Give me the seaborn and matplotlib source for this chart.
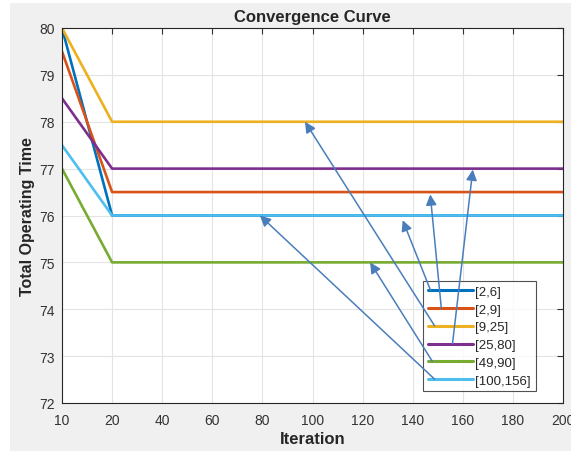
import numpy as np
import pandas as pd
import matplotlib
matplotlib.use("Agg")
import matplotlib.pyplot as plt
from matplotlib.patches import Rectangle
import seaborn as sns

# x axis is evenly spaced by step, labelled with the iteration count
iterations = [10, 20, 40, 60, 80, 100, 120, 140, 160, 180, 200]
series_names = ["[2,6]", "[2,9]", "[9,25]", "[25,80]", "[49,90]", "[100,156]"]

time_2_6 = [80, 76, 76, 76, 76, 76, 76, 76, 76, 76, 76]
time_2_9 = [79.5, 76.5, 76.5, 76.5, 76.5, 76.5, 76.5, 76.5, 76.5, 76.5, 76.5]
time_9_25 = [80, 78, 78, 78, 78, 78, 78, 78, 78, 78, 78]
time_25_80 = [78.5, 77, 77, 77, 77, 77, 77, 77, 77, 77, 77]
time_49_90 = [77, 75, 75, 75, 75, 75, 75, 75, 75, 75, 75]
time_100_156 = [77.5, 76, 76, 76, 76, 76, 76, 76, 76, 76, 76]

# where each legend arrow points (iteration, value)
arrow_iter = [136, 147, 97, 164, 123, 79]
arrow_value = [75.9, 76.45, 78.0, 76.98, 75.0, 76.0]

colors = ["#0072BD", "#D95319", "#EDB120", "#7E2F8E", "#77AC30", "#4DBEEE"]
arrow_color = "#4A7EBB"

all_series = [time_2_6, time_2_9, time_9_25, time_25_80, time_49_90, time_100_156]
rows = []
for name, vals in zip(series_names, all_series):
    for step, (it, v) in enumerate(zip(iterations, vals)):
        rows.append({"step": step, "Iteration": it, "time": v, "range": name})
df = pd.DataFrame(rows)

sns.set_style("white")
plt.rcParams["font.family"] = ["Liberation Sans", "DejaVu Sans"]

fig = plt.figure(figsize=(5.71, 4.52), dpi=100, facecolor="white")
fig.patches.append(Rectangle((10 / 571, 0), 1, (452 - 4) / 452, transform=fig.transFigure,
                             facecolor="#f0f0f0", edgecolor="none", zorder=-10))
ax = fig.add_axes([62 / 571, 48 / 452, 501 / 571, 375 / 452])
ax.set_facecolor("white")

sns.lineplot(data=df, x="step", y="time", hue="range", hue_order=series_names,
             palette=colors, linewidth=1.9, ax=ax, legend=True, sort=False)

steps = np.arange(len(iterations))
ax.set_xlim(0, len(iterations) - 1)
ax.set_ylim(72, 80)
ax.set_xticks(steps)
ax.set_xticklabels([str(i) for i in iterations])
ax.set_yticks(np.arange(72, 81, 1))
ax.grid(True, color="#e3e3e3", linewidth=0.8)
ax.tick_params(direction="in", length=4, width=0.8, colors="#333333", labelsize=10,
               top=True, right=True)
ax.tick_params(axis="x", pad=7)
ax.tick_params(axis="y", pad=5)
for sp in ax.spines.values():
    sp.set_color("#262626")
    sp.set_linewidth(0.8)

ax.set_title("Convergence Curve", fontsize=12, weight="bold", pad=5)
ax.set_xlabel("Iteration", fontsize=12, weight="bold", labelpad=3)
ax.set_ylabel("Total Operating Time", fontsize=11.5, weight="bold", labelpad=3)

leg = ax.legend(loc="lower left", bbox_to_anchor=(0.721, 0.031), borderaxespad=0,
                fontsize=9.5, handlelength=3.4, handletextpad=0.2, labelspacing=0.42,
                frameon=True, fancybox=False, edgecolor="#262626", borderpad=0.35)
leg.get_frame().set_linewidth(0.8)
for line in leg.get_lines():
    line.set_linewidth(2.2)

# arrows from each legend entry to its curve
fig.canvas.draw()
inv = ax.transAxes.inverted()
for i, line in enumerate(leg.get_lines()):
    xd, yd = line.get_xydata()[:, 0], line.get_xydata()[:, 1]
    disp = line.get_transform().transform(np.column_stack([xd, yd]))
    frac_x = [0.06, 0.3, 0.15, 0.55, 0.1, 0.15][i]
    px = disp[0, 0] + (disp[-1, 0] - disp[0, 0]) * frac_x
    tail = inv.transform((px, disp[0, 1]))
    head_x = np.interp(arrow_iter[i], iterations, steps)
    ax.annotate("", xy=(head_x, arrow_value[i]), xycoords="data",
                xytext=(tail[0], tail[1]), textcoords="axes fraction",
                arrowprops=dict(arrowstyle="-|>", color=arrow_color, lw=1.1,
                                mutation_scale=16, shrinkA=0, shrinkB=0),
                zorder=6)

fig.savefig("out.png", dpi=100, facecolor=fig.get_facecolor())
